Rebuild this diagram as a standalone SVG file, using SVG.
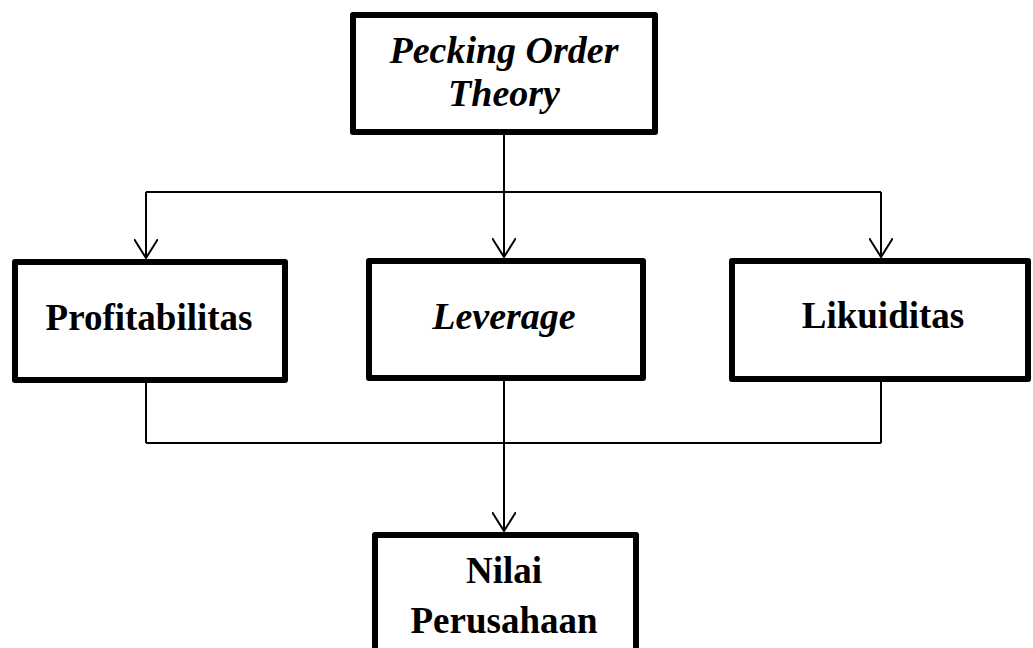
<svg xmlns="http://www.w3.org/2000/svg" width="1033" height="648" viewBox="0 0 1033 648">
<style>
.box{fill:#fff;stroke:#000;stroke-width:6;stroke-linejoin:round}
.t{font-family:"Liberation Serif","Times New Roman",serif;font-weight:bold;font-size:37px;text-anchor:middle;fill:#000}
.i{font-style:italic;font-size:38px}
.c{fill:none;stroke:#000;stroke-width:2}
</style>
<defs>
<marker id="ah" viewBox="0 0 20 24" refX="19" refY="12" markerWidth="20" markerHeight="24" markerUnits="userSpaceOnUse" orient="auto">
<path d="M0,0 L19,12 L0,24" fill="none" stroke="#000" stroke-width="2"/>
</marker>
</defs>
<rect width="1033" height="648" fill="#fff"/>
<g id="connectors">
<line class="c" x1="504" y1="135" x2="504" y2="192"/>
<line class="c" x1="146" y1="192" x2="881" y2="192"/>
<path class="c" d="M146,192 L146,258" marker-end="url(#ah)"/>
<path class="c" d="M504,192 L504,257" marker-end="url(#ah)"/>
<path class="c" d="M881,192 L881,257" marker-end="url(#ah)"/>
<line class="c" x1="146" y1="383" x2="146" y2="443"/>
<line class="c" x1="504" y1="381" x2="504" y2="443"/>
<line class="c" x1="881" y1="382" x2="881" y2="443"/>
<line class="c" x1="146" y1="443" x2="881" y2="443"/>
<path class="c" d="M504,443 L504,531" marker-end="url(#ah)"/>
</g>
<g id="pecking">
<rect class="box" x="353" y="15" width="302" height="117"/>
<text class="t i" x="504" y="63">Pecking Order</text>
<text class="t i" x="504" y="106">Theory</text>
</g>
<g id="profitabilitas">
<rect class="box" x="15" y="262" width="270" height="118"/>
<text class="t" x="149" y="330">Profitabilitas</text>
</g>
<g id="leverage">
<rect class="box" x="369" y="261" width="274" height="117"/>
<text class="t i" x="504" y="329">Leverage</text>
</g>
<g id="likuiditas">
<rect class="box" x="732" y="261" width="296" height="118"/>
<text class="t" x="883" y="328">Likuiditas</text>
</g>
<g id="nilai">
<rect class="box" x="375" y="535" width="261" height="130"/>
<text class="t" x="504" y="583">Nilai</text>
<text class="t" x="504" y="633">Perusahaan</text>
</g>
</svg>
